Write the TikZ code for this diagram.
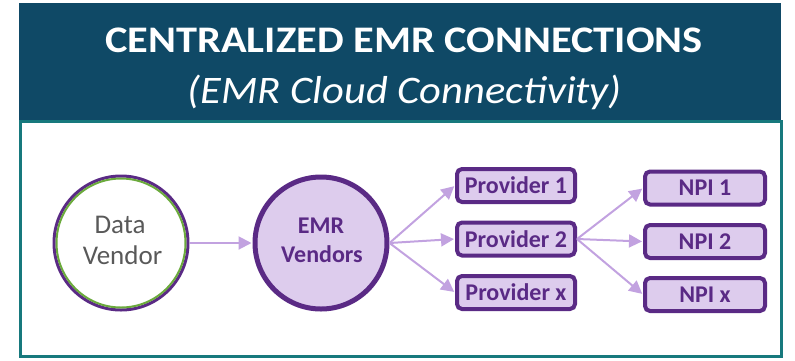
\documentclass[tikz,border=0pt]{standalone}
\usepackage{fontspec}
\setmainfont{Carlito}
\usetikzlibrary{arrows.meta}
\definecolor{headblue}{HTML}{0F4966}
\definecolor{frameteal}{HTML}{17797D}
\definecolor{darkpurple}{HTML}{5A2A85}
\definecolor{lightpurple}{HTML}{DDCCED}
\definecolor{arrowpurple}{HTML}{C2A2E0}
\definecolor{ringgreen}{HTML}{6BAA3C}
\definecolor{textgray}{HTML}{595959}
\tikzset{
  pbox/.style={draw=darkpurple, line width=4pt, fill=lightpurple, rounded corners=5pt,
    minimum width=118pt, minimum height=33pt, inner sep=0pt,
    font=\fontsize{24}{26}\selectfont\bfseries, text=darkpurple},
  nbox/.style={pbox, minimum width=120pt},
  flow/.style={draw=arrowpurple, line width=2pt,
    -{Triangle[length=13pt,width=13pt]}, shorten >=1pt},
  grayline/.style={anchor=base, inner sep=0pt, text=textgray, font=\fontsize{27}{30}\selectfont},
  emrline/.style={anchor=base, inner sep=0pt, text=darkpurple, font=\fontsize{24}{28}\selectfont\bfseries}
}
\begin{document}
\begin{tikzpicture}[x=1pt,y=-1pt]
\useasboundingbox (0,0) rectangle (795,360);
% header band and frame
\fill[headblue] (19,3) rectangle (781,121);
\draw[frameteal, line width=3pt] (20,121) rectangle (781,356);
\node[anchor=base, inner sep=0pt, text=white, font=\fontsize{37.5}{40}\selectfont\bfseries] (title) at (404,52)
  {\scalebox{1.13}[1]{CENTRALIZED EMR CONNECTIONS}};
\node[anchor=base, inner sep=0pt, text=white, font=\fontsize{39}{42}\selectfont\itshape] (subtitle) at (405,103)
  {\scalebox{1.09}[1]{(EMR Cloud Connectivity)}};
% source circle with green inner ring
\node[circle, draw=darkpurple, line width=3pt, fill=white, minimum size=134pt, inner sep=0pt] (dv) at (121,243) {};
\draw[ringgreen, line width=2pt] (dv.center) circle (64.5);
\node[grayline] (dv1) at (120,233) {Data};
\node[grayline] (dv2) at (122.5,264) {Vendor};
% EMR hub
\node[circle, draw=darkpurple, line width=5pt, fill=lightpurple, minimum size=132pt, inner sep=0pt] (emr) at (321,243) {};
\node[emrline] (emr1) at (321,233) {EMR};
\node[emrline] (emr2) at (322,262) {Vendors};
% providers
\node[pbox] (p1) at (516,185.5) {Provider 1};
\node[pbox] (p2) at (516,239) {Provider 2};
\node[pbox] (px) at (516,292.5) {Provider x};
% NPIs
\node[nbox] (n1) at (705,188) {NPI 1};
\node[nbox] (n2) at (705,241.5) {NPI 2};
\node[nbox] (nx) at (705,294.5) {NPI x};
% connectors
\draw[flow] (dv.east) -- (emr.west);
\draw[flow] (emr.east) -- (p1.west);
\draw[flow] (emr.east) -- (p2.west);
\draw[flow] (emr.east) -- (px.west);
\draw[flow] (p2.east) -- (n1.west);
\draw[flow] (p2.east) -- (n2.west);
\draw[flow] (p2.east) -- (nx.west);
\end{tikzpicture}
\end{document}
